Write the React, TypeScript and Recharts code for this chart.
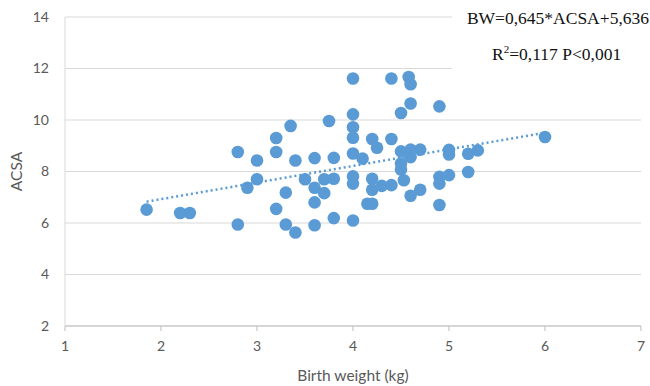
import React from 'react';
import { ScatterChart, Scatter, XAxis, YAxis, CartesianGrid } from 'recharts';

// birth weight (kg) and ACSA
const birthWeight = [
  1.85, 2.2, 2.3, 2.8, 2.8, 2.9, 3.0, 3.0, 3.2, 3.2,
  3.2, 3.3, 3.3, 3.35, 3.4, 3.4, 3.5, 3.6, 3.6, 3.6,
  3.6, 3.7, 3.7, 3.75, 3.8, 3.8, 3.8, 4.0, 4.0, 4.0,
  4.0, 4.0, 4.0, 4.0, 4.0, 4.1, 4.15, 4.2, 4.2, 4.25,
  4.2, 4.2, 4.3, 4.4, 4.4, 4.4, 4.5, 4.5, 4.5, 4.5,
  4.53, 4.58, 4.6, 4.6, 4.6, 4.6, 4.6, 4.7, 4.7, 4.9,
  4.9, 4.9, 4.9, 5.0, 5.0, 5.0, 5.2, 5.2, 5.3, 6.0,
];
const acsa = [
  6.52, 6.39, 6.39, 5.94, 8.76, 7.37, 8.43, 7.7, 9.3, 8.76,
  6.55, 7.18, 5.94, 9.77, 8.43, 5.63, 7.7, 8.52, 7.37, 6.8,
  5.91, 7.7, 7.16, 9.96, 8.53, 7.72, 6.19, 11.61, 10.22, 9.72,
  9.31, 8.7, 7.81, 7.53, 6.1, 8.5, 6.75, 6.75, 9.26, 8.92,
  7.72, 7.29, 7.44, 11.61, 9.26, 7.47, 10.27, 8.78, 8.31, 8.08,
  7.66, 11.67, 11.39, 10.64, 8.85, 8.56, 7.06, 8.85, 7.29, 10.53,
  7.79, 7.53, 6.7, 8.84, 8.66, 7.86, 8.69, 7.98, 8.82, 9.34,
];

const xTicks = [1, 2, 3, 4, 5, 6, 7];
const yTicks = [2, 4, 6, 8, 10, 12, 14];

// regression from the annotation: BW = 0.645*ACSA + 5.636
const slope = 0.645;
const intercept = 5.636;

const points = birthWeight.map((x, i) => ({ x, y: acsa[i] }));
const xMin = Math.min(...birthWeight);
const xMax = Math.max(...birthWeight);
const trend = [xMin, xMax].map((x) => ({ x, y: slope * x + intercept }));

const blue = '#5B9BD5';
const textGray = '#595959';
const font = 'Lato, "Open Sans", sans-serif';

const App: React.FC = () => {
  return (
    <div style={{ position: 'absolute', left: 0, top: 0, width: 650, height: 386, background: '#fff' }}>
      <ScatterChart width={650} height={386} margin={{ top: 17, right: 9, bottom: 0, left: 0 }}>
        <CartesianGrid vertical={false} stroke="#D9D9D9" strokeWidth={1} />
        <XAxis
          type="number"
          dataKey="x"
          domain={[1, 7]}
          ticks={xTicks}
          height={60}
          stroke="#BFBFBF"
          tickSize={5}
          tickMargin={10}
          tick={{ fill: textGray, fontSize: 14, fontFamily: font }}
          label={{ value: 'Birth weight (kg)', position: 'insideBottom', offset: 5, fill: textGray, fontSize: 15.5, fontFamily: font }}
        />
        <YAxis
          type="number"
          dataKey="y"
          domain={[2, 14]}
          ticks={yTicks}
          width={65}
          stroke="#D9D9D9"
          tickLine={false}
          tickSize={6}
          tickMargin={10}
          tick={{ fill: textGray, fontSize: 14, fontFamily: font }}
          label={{ value: 'ACSA', angle: -90, position: 'insideLeft', offset: 16, fill: textGray, fontSize: 15.5, fontFamily: font, style: { textAnchor: 'middle' } }}
        />
        <Scatter data={points} fill={blue} isAnimationActive={false} shape={(p: any) => <circle cx={p.cx} cy={p.cy} r={6.3} fill={blue} />} />
        <Scatter
          data={trend}
          fill="none"
          line={{ stroke: blue, strokeWidth: 2.5, strokeDasharray: '2 3' }}
          lineType="joint"
          shape={() => null}
          isAnimationActive={false}
        />
      </ScatterChart>
      <div
        style={{
          position: 'absolute',
          left: 452,
          top: 0,
          width: 198,
          height: 88,
          background: '#fff',
          fontFamily: '"Liberation Serif", "Times New Roman", serif',
          fontSize: 17.5,
          color: '#111',
        }}
      >
        <div style={{ position: 'absolute', right: 1, top: 8, whiteSpace: 'nowrap' }}>BW=0,645*ACSA+5,636</div>
        <div style={{ position: 'absolute', left: 40, top: 44, whiteSpace: 'nowrap' }}>
          R<sup style={{ fontSize: 11, verticalAlign: 'top', lineHeight: 1 }}>2</sup>=0,117 P&lt;0,001
        </div>
      </div>
    </div>
  );
};

export default App;
